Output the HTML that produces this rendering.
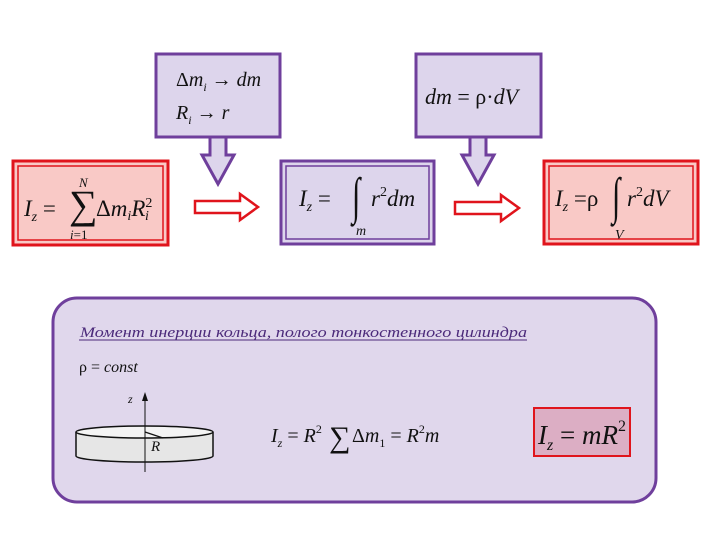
<!DOCTYPE html>
<html><head><meta charset="utf-8"><style>
html,body{margin:0;padding:0;background:#fff;width:720px;height:540px;overflow:hidden}
svg text{font-family:"Liberation Serif",serif;font-style:italic;fill:#111}
.u{font-style:normal}
</style></head><body>
<svg width="720" height="540" viewBox="0 0 720 540" xmlns="http://www.w3.org/2000/svg">
<rect x="156" y="54" width="124" height="83" fill="#ddd5ec" stroke="#6f3f9c" stroke-width="3"/>
<text x="176" y="86" font-size="20"><tspan class="u">Δ</tspan>m<tspan font-size="12" dy="5">i</tspan><tspan dy="-5" class="u"> → </tspan>dm</text>
<text x="176" y="119" font-size="20">R<tspan font-size="12" dy="5">i</tspan><tspan dy="-5" class="u">    → </tspan>r</text>
<rect x="416" y="54" width="125" height="83" fill="#ddd5ec" stroke="#6f3f9c" stroke-width="3"/>
<text x="425" y="104" font-size="22">dm <tspan class="u">= ρ·</tspan>dV</text>
<polygon points="210,137 226,137 226,155 234,155 218,184 202,155 210,155" fill="#ddd5ec" stroke="#6f3f9c" stroke-width="3"/>
<polygon points="470,137 486,137 486,155 494,155 478,184 462,155 470,155" fill="#ddd5ec" stroke="#6f3f9c" stroke-width="3"/>
<rect x="13" y="161" width="155" height="84" fill="#f9c9c6" stroke="#e0141c" stroke-width="3"/>
<rect x="18" y="166" width="145" height="74" fill="none" stroke="#e0141c" stroke-width="1.5"/>
<text x="24" y="216" font-size="23">I<tspan font-size="14" dy="5">z</tspan><tspan dy="-5" class="u"> = </tspan></text>
<text x="69" y="218" font-size="40" class="u">∑</text>
<text x="79" y="187" font-size="13">N</text>
<text x="70" y="239" font-size="13">i<tspan class="u">=1</tspan></text>
<text x="96" y="216" font-size="23"><tspan class="u">Δ</tspan>m<tspan font-size="14" dy="4">i</tspan><tspan dy="-4">R</tspan><tspan font-size="14" dy="-9" class="u">2</tspan></text>
<text x="145" y="220" font-size="14">i</text>
<rect x="281" y="161" width="153" height="83" fill="#ddd5ec" stroke="#6f3f9c" stroke-width="3"/>
<rect x="286" y="166" width="143" height="73" fill="none" stroke="#6f3f9c" stroke-width="1.5"/>
<text x="299" y="206" font-size="23">I<tspan font-size="14" dy="5">z</tspan><tspan dy="-5" class="u"> = </tspan></text>
<text transform="translate(352,213) scale(1,1.7)" font-size="30" class="u">∫</text>
<text x="356" y="235" font-size="14">m</text>
<text x="371" y="206" font-size="23">r<tspan font-size="14" dy="-10" class="u">2</tspan><tspan dy="10">dm</tspan></text>
<rect x="544" y="161" width="154" height="83" fill="#f9c9c6" stroke="#e0141c" stroke-width="3"/>
<rect x="549" y="166" width="144" height="73" fill="none" stroke="#e0141c" stroke-width="1.5"/>
<text x="555" y="206" font-size="23">I<tspan font-size="14" dy="5">z</tspan><tspan dy="-5" class="u"> =ρ</tspan></text>
<text transform="translate(612,213) scale(1,1.7)" font-size="30" class="u">∫</text>
<text x="615" y="239" font-size="14">V</text>
<text x="627" y="206" font-size="23">r<tspan font-size="14" dy="-10" class="u">2</tspan><tspan dy="10">dV</tspan></text>
<polygon points="195,201 240,201 240,194 258,207 240,220 240,213 195,213" fill="#fff" stroke="#e0141c" stroke-width="2.5"/>
<polygon points="455,202 501,202 501,195 519,208 501,221 501,214 455,214" fill="#fff" stroke="#e0141c" stroke-width="2.5"/>
<rect x="53" y="298" width="603" height="204" rx="24" fill="#e0d7ec" stroke="#6f3f9c" stroke-width="3"/>
<text x="80" y="337" font-size="15" style="fill:#4b2a7a" textLength="447" lengthAdjust="spacingAndGlyphs">Момент инерции кольца, полого тонкостенного цилиндра</text>
<line x1="79" y1="340" x2="527" y2="340" stroke="#4b2a7a" stroke-width="1"/>
<text x="79" y="372" font-size="16"><tspan class="u">ρ = </tspan>const</text>
<path d="M76,432 L76,456 A68,6 0 0 0 213,456 L213,432" fill="#e6e6e6" stroke="#111" stroke-width="1.5"/>
<ellipse cx="144.5" cy="432" rx="68.5" ry="6" fill="#f4f4f4" stroke="#111" stroke-width="1.5"/>
<line x1="145" y1="398" x2="145" y2="472" stroke="#111" stroke-width="1"/>
<polygon points="145,392 142,401 148,401" fill="#111"/>
<text x="128" y="403" font-size="12">z</text>
<line x1="145" y1="432" x2="163" y2="438" stroke="#111" stroke-width="1.2"/>
<text x="151" y="451" font-size="15">R</text>
<text x="271" y="442" font-size="20">I<tspan font-size="12" dy="5">z</tspan><tspan dy="-5" class="u"> = </tspan>R<tspan font-size="12" dy="-9" class="u">2</tspan></text>
<text x="329" y="447" font-size="30" class="u">∑</text>
<text x="352" y="442" font-size="20"><tspan class="u">Δ</tspan>m<tspan font-size="12" dy="5" class="u">1</tspan><tspan dy="-5" class="u"> = </tspan>R<tspan font-size="12" dy="-9" class="u">2</tspan><tspan dy="9">m</tspan></text>
<rect x="534" y="408" width="96" height="48" fill="#dcaec4" stroke="#e0141c" stroke-width="2"/>
<text x="538" y="444" font-size="27">I<tspan font-size="16" dy="6">z</tspan><tspan dy="-6" class="u"> = </tspan>mR<tspan font-size="16" dy="-13" class="u">2</tspan></text>
</svg>
</body></html>
